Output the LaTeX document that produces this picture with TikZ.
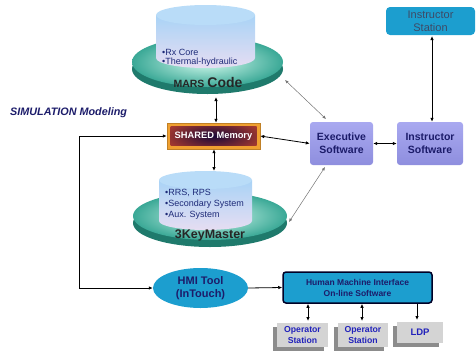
\documentclass[tikz,border=0pt]{standalone}
\usepackage{fontspec}
\setmainfont{Liberation Sans}
\usetikzlibrary{arrows.meta,shapes.geometric,shadows}
\definecolor{navy}{HTML}{1C1C6A}
\definecolor{bulnavy}{HTML}{1E2A78}
\definecolor{rimc}{HTML}{1F7A6C}
\definecolor{facein}{HTML}{D4FBEE}
\definecolor{faceout}{HTML}{3AA896}
\definecolor{cyltop}{HTML}{A9D3F6}
\definecolor{cylbot}{HTML}{E6DDF2}
\definecolor{cyllid}{HTML}{B9DCF8}
\definecolor{exetop}{HTML}{A9A9F0}
\definecolor{exebot}{HTML}{8E8EDE}
\definecolor{tealb}{HTML}{1C9ECF}
\definecolor{stattxt}{HTML}{3E4A66}
\definecolor{opfill}{HTML}{D4D4D4}
\definecolor{opshadow}{HTML}{8C8C8C}
\definecolor{optxt}{HTML}{2222BB}
\definecolor{shmorange}{HTML}{F0A030}
\definecolor{shmin}{HTML}{1A0838}
\definecolor{shmout}{HTML}{D24A2C}
\begin{document}
\begin{tikzpicture}[x=1pt,y=-1pt,
  tip/.tip={Latex[length=4pt,width=3.5pt]},
  arr/.style={line width=0.8pt,{tip}-{tip}},
  sarr/.style={line width=0.8pt,-{tip}},
  garr/.style={line width=0.5pt,draw=black!55,{Latex[length=3.5pt,width=3pt]}-{Latex[length=3.5pt,width=3pt]}},
  bul/.style={font=\fontsize{9}{10.5}\selectfont,text=bulnavy,align=left,anchor=west,inner sep=0},
  exbox/.style={rounded corners=3pt,top color=exetop,bottom color=exebot,minimum height=43pt,inner sep=0,align=center,
    font=\bfseries\fontsize{10.5}{13}\selectfont,text=navy},
  opbox/.style={fill=opfill,minimum width=51pt,minimum height=24pt,inner sep=0,align=center,
    font=\bfseries\fontsize{8.7}{11}\selectfont,text=optxt,
    drop shadow={shadow xshift=-4pt,shadow yshift=-4pt,opacity=1,fill=opshadow}},
]
\useasboundingbox (0,0) rectangle (476,351);

% ---------- MARS Code disk ----------
\fill[rimc] (207.5,69) ellipse[x radius=75.5pt,y radius=25pt];
\shade[inner color=facein,outer color=faceout] (207.5,62) ellipse[x radius=75.5pt,y radius=25pt];
\shade[top color=cyltop,bottom color=cylbot] (156,15) -- (156,58) arc[start angle=180,end angle=360,x radius=49.5pt,y radius=10pt] -- (255,15) -- cycle;
\fill[cyllid] (205.5,15) ellipse[x radius=49.5pt,y radius=10pt];
\node[ellipse,minimum width=151pt,minimum height=60pt,inner sep=0] (mars) at (207.5,65) {};
\node[bul] (marsA) at (162,52) {•Rx Core};
\node[bul] (marsB) at (162,62) {•Thermal-hydraulic};
\node[inner sep=0,text=black!85] (marsT) at (208,82) {\bfseries\fontsize{10.5}{12}\selectfont MARS \fontsize{14}{16}\selectfont Code};

% ---------- 3KeyMaster disk ----------
\fill[rimc] (210,223) ellipse[x radius=77pt,y radius=24pt];
\shade[inner color=facein,outer color=faceout] (210,216) ellipse[x radius=77pt,y radius=24pt];
\shade[top color=cyltop,bottom color=cylbot] (159,180) -- (159,221) arc[start angle=180,end angle=360,x radius=46.5pt,y radius=9pt] -- (252,180) -- cycle;
\fill[cyllid] (205.5,180) ellipse[x radius=46.5pt,y radius=9pt];
\node[ellipse,minimum width=154pt,minimum height=56pt,inner sep=0] (km) at (210,219) {};
\node[bul] (kmA) at (165,193) {•RRS, RPS};
\node[bul] (kmB) at (165,204) {•Secondary System};
\node[bul] (kmC) at (165,215) {•Aux. System};
\node[inner sep=0,text=black!85,font=\bfseries\fontsize{12.5}{14}\selectfont] (kmT) at (210,235) {3KeyMaster};

% ---------- SHARED Memory ----------
\node[minimum width=93pt,minimum height=26pt,inner sep=0,fill=shmorange,draw=shmorange!80!black,line width=0.4pt,
  path picture={\begin{scope}
    \clip ([shift={(3.5pt,-3.5pt)}]path picture bounding box.north west) rectangle ([shift={(-3.5pt,3.5pt)}]path picture bounding box.south east);
    \shade[inner color=shmin,outer color=shmout]
    ([shift={(-20pt,10pt)}]path picture bounding box.north west) rectangle ([shift={(20pt,-10pt)}]path picture bounding box.south east);
    \end{scope}},
  font=\bfseries\fontsize{9.3}{11}\selectfont,text=white] (shm) at (213.5,136) {SHARED Memory};

% ---------- label ----------
\node[anchor=west,inner sep=0,text=navy,font=\bfseries\itshape\fontsize{10.8}{12}\selectfont] (sim) at (10,113) {SIMULATION Modeling};

% ---------- software boxes ----------
\node[exbox,minimum width=63pt] (exe) at (341.5,143.5) {Executive\\Software};
\node[exbox,minimum width=66pt] (isw) at (430,143.5) {Instructor\\Software};
\node[rounded corners=4pt,fill=tealb,minimum width=89pt,minimum height=28pt,inner sep=0,align=center,
  font=\fontsize{11}{13}\selectfont,text=stattxt] (ist) at (430.5,21) {Instructor\\Station};

% ---------- HMI ----------
\node[ellipse,fill=tealb,minimum width=95pt,minimum height=40pt,inner sep=0,align=center,
  font=\bfseries\fontsize{11}{13}\selectfont,text=navy] (hmi) at (200.5,288) {HMI Tool\\(InTouch)};
\node[rounded corners=3pt,fill=tealb,draw=black!85!blue,line width=1.5pt,minimum width=149pt,minimum height=31pt,inner sep=0,align=center,
  font=\bfseries\fontsize{8.5}{11}\selectfont,text=navy] (hsw) at (357.5,287.5) {Human Machine Interface\\On-line Software};

% ---------- stations ----------
\node[opbox] (op1) at (302.5,335) {Operator\\Station};
\node[opbox,minimum width=50pt] (op2) at (363,335) {Operator\\Station};
\node[opbox,minimum width=46pt,minimum height=21pt,font=\bfseries\fontsize{9.5}{11}\selectfont] (ldp) at (420,332.5) {LDP};

% ---------- connectors ----------
\coordinate (marsS) at (216,97);
\draw[arr] (marsS) -- (marsS |- shm.north);
\coordinate (kmN) at (214,171);
\draw[arr] (kmN |- shm.south) -- (kmN);
\draw[arr] (shm.east) -- (exe.west);
\draw[arr] (exe.east) -- (isw.west);
\coordinate (istS) at (432,36);
\draw[arr] (istS) -- (istS |- isw.north);
\coordinate (marsE) at (285,80);
\coordinate (exeNW) at (326,119);
\draw[garr] (marsE) -- (exeNW);
\coordinate (kmE) at (289,222);
\coordinate (exeSW) at (325,167);
\draw[garr] (exeSW) -- (kmE);
\draw[arr] (shm.west) -- ++(-87,0) |- (hmi.west);
\draw[sarr] (hmi.east) -- (hsw.west);
\coordinate (o1) at (308,321);
\coordinate (o2) at (362,321);
\coordinate (o3) at (417,320);
\draw[arr] (o1 |- hsw.south) -- (o1);
\draw[arr] (o2 |- hsw.south) -- (o2);
\draw[sarr] (o3 |- hsw.south) -- (o3);
\end{tikzpicture}
\end{document}
